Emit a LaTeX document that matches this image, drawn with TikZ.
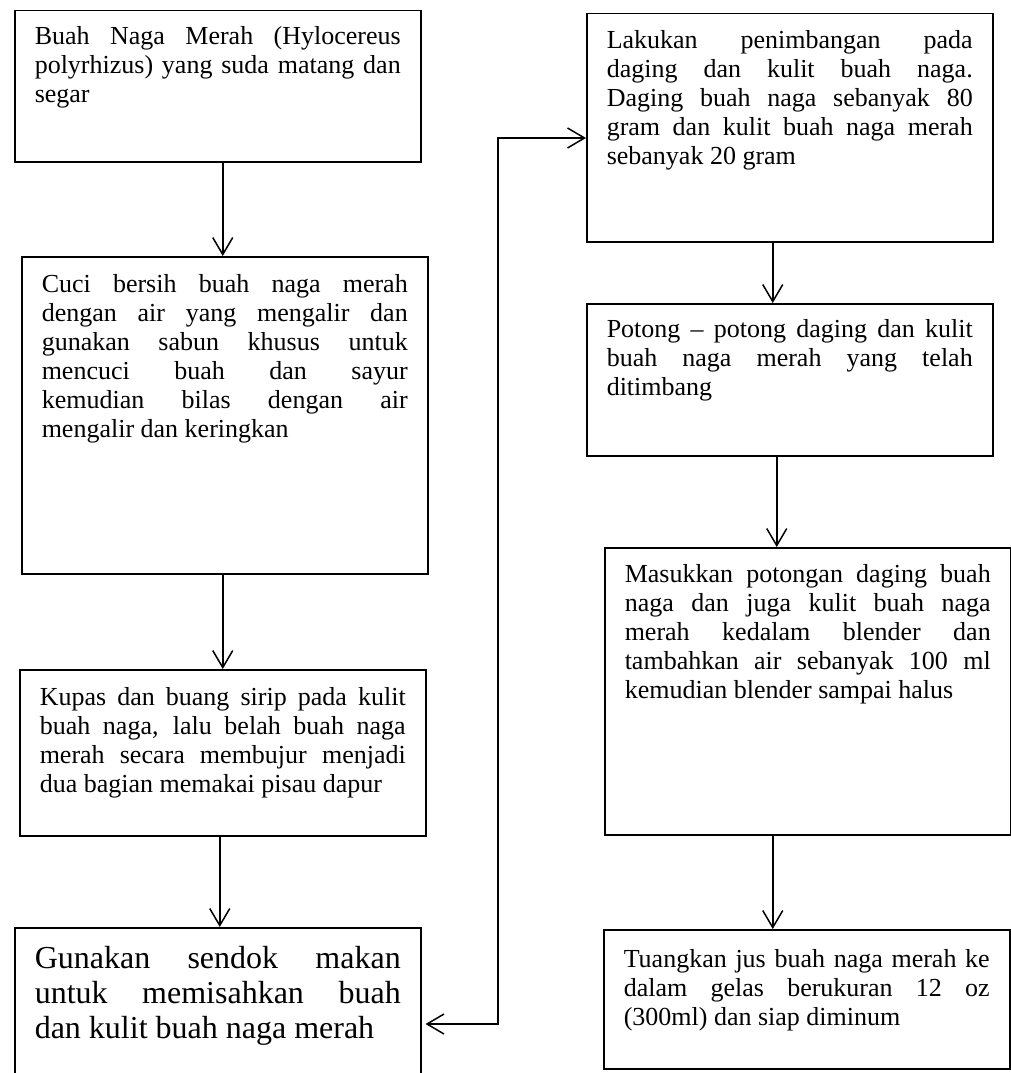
\documentclass[tikz,border=0pt]{standalone}
\usepackage{fontspec}
\setmainfont{Liberation Serif}
\usetikzlibrary{arrows.meta}
\hyphenpenalty=10000
\exhyphenpenalty=10000
\begin{document}
\begin{tikzpicture}[x=1pt, y=-1pt, line width=1.5pt, >={Straight Barb[length=17pt,width=20pt]},main box/.style={draw,anchor=north west,text width=366pt,align=justify,inner xsep=20pt,inner ysep=0pt,font=\fontsize{26}{29}\selectfont}]%
\useasboundingbox (0,0) rectangle (1011,1073);
\begin{scope}[every node/.style={main box}]
\node (b1) at (14,10) [text height=34pt, text depth=117pt] {Buah Naga Merah (Hylocereus\linebreak polyrhizus) yang suda matang dan\linebreak segar};%1
\node (b2) at (21,256) [text height=36pt, text depth=281pt] {Cuci bersih buah naga merah\linebreak dengan air yang mengalir dan\linebreak gunakan sabun khusus untuk\linebreak mencuci buah dan sayur\linebreak kemudian bilas dengan air\linebreak mengalir dan keringkan};%2
\node (b3) at (19,669) [text height=36pt, text depth=130pt] {Kupas dan buang sirip pada kulit\linebreak buah naga, lalu belah buah naga\linebreak merah secara membujur menjadi\linebreak dua bagian memakai pisau dapur};%3
\node (b4) at (14,927) [text height=41pt, text depth=112pt, font=\fontsize{32}{35}\selectfont] {Gunakan sendok makan\linebreak untuk memisahkan buah\linebreak dan kulit buah naga merah};%4
\node (b5) at (586,13) [text height=35pt, text depth=193pt] {Lakukan penimbangan pada\linebreak daging dan kulit buah naga.\linebreak Daging buah naga sebanyak 80\linebreak gram dan kulit buah naga merah\linebreak sebanyak 20 gram};%5
\node (b6) at (586,303) [text height=34pt, text depth=118pt] {Potong – potong daging dan kulit\linebreak buah naga merah yang telah\linebreak ditimbang};%6
\node (b7) at (604,547) [text height=35pt, text depth=252pt] {Masukkan potongan daging buah\linebreak naga dan juga kulit buah naga\linebreak merah kedalam blender dan\linebreak tambahkan air sebanyak 100 ml\linebreak kemudian blender sampai halus};%7
\node (b8) at (603,929) [text height=38pt, text depth=101pt] {Tuangkan jus buah naga merah ke\linebreak dalam gelas berukuran 12 oz\linebreak (300ml) dan siap diminum};%8
\end{scope}
\coordinate (k1) at (498,1024);
\coordinate (k2) at (498,138);
\begin{scope}[every edge/.style={draw,->}]
\draw ([xshift=5pt]b1.south) edge ([xshift=-2pt]b2.north);
\draw ([xshift=-2pt]b2.south) edge (b3.north);
\draw ([xshift=-3pt]b3.south) edge ([xshift=2pt]b4.north);
\draw ([xshift=-17pt]b5.south) edge ([xshift=-17pt]b6.north);
\draw ([xshift=-13pt]b6.south) edge ([xshift=-31pt]b7.north);
\draw ([xshift=-35pt]b7.south) edge ([xshift=-34pt]b8.north);
\end{scope}
\draw[<->, shorten <=4pt] (b4.east |- k1) -- (k1) -- (k2) -- (b5.west |- k2);
\end{tikzpicture}
\end{document}
